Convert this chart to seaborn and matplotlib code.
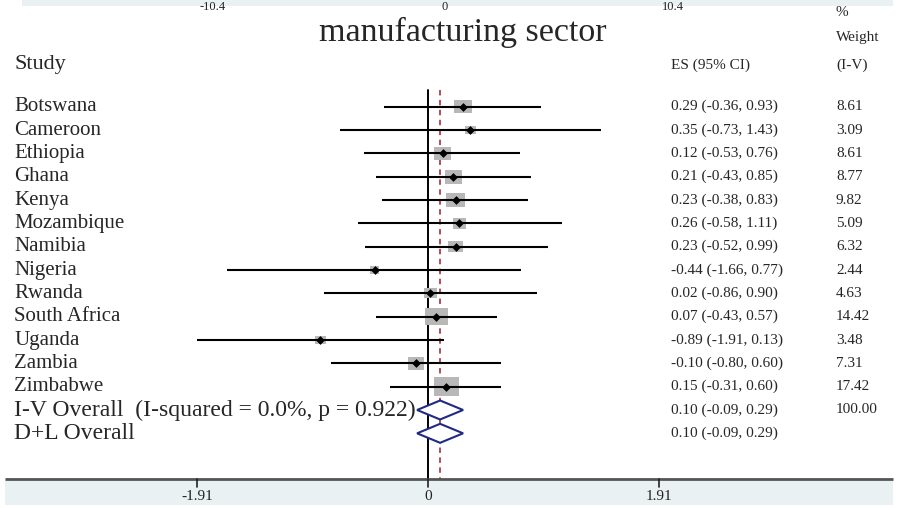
import numpy as np
import pandas as pd
import matplotlib
matplotlib.use("Agg")
import matplotlib.pyplot as plt
from matplotlib.patches import Rectangle, Polygon
import seaborn as sns

# ---- data -------------------------------------------------------------
studies = ["Botswana", "Cameroon", "Ethiopia", "Ghana", "Kenya", "Mozambique",
           "Namibia", "Nigeria", "Rwanda", "South Africa", "Uganda", "Zambia",
           "Zimbabwe"]
es = [0.29, 0.35, 0.12, 0.21, 0.23, 0.26, 0.23, -0.44, 0.02, 0.07, -0.89, -0.10, 0.15]
ci_low = [-0.36, -0.73, -0.53, -0.43, -0.38, -0.58, -0.52, -1.66, -0.86, -0.43,
          -1.91, -0.80, -0.31]
ci_high = [0.93, 1.43, 0.76, 0.85, 0.83, 1.11, 0.99, 0.77, 0.90, 0.57, 0.13, 0.60, 0.60]
weights = [8.61, 3.09, 8.61, 8.77, 9.82, 5.09, 6.32, 2.44, 4.63, 14.42, 3.48, 7.31, 17.42]

pooled_labels = ["I-V Overall  (I-squared = 0.0%, p = 0.922)", "D+L Overall"]
pooled_es = [0.10, 0.10]
pooled_low = [-0.09, -0.09]
pooled_high = [0.29, 0.29]
pooled_weight = ["100.00", ""]

x_ticks = [-1.91, 0, 1.91]
x_tick_labels = ["-1.91", "0", "1.91"]
top_tick_labels = ["-10.4", "0", "10.4"]

title = "manufacturing sector"

df = pd.DataFrame({"study": studies, "es": es, "lo": ci_low, "hi": ci_high,
                   "w": weights})
df["row"] = np.arange(len(df))

# ---- figure / coordinate frame ---------------------------------------
sns.set_theme(style="white")
plt.rcParams["font.family"] = ["Liberation Serif", "DejaVu Serif"]

W, H = 903, 508
fig = plt.figure(figsize=(W / 100, H / 100), dpi=100)
ax = fig.add_axes([0, 0, 1, 1])
ax.set_axis_off()

PX_PER_UNIT = 121.0      # horizontal pixels per effect-size unit
ZERO_PX = 428.0          # pixel column of the null line
ROW_PX = 23.33           # pixel height of one row
ROW0_PX = 106.7          # pixel row of the first study

ax.set_xlim(-ZERO_PX / PX_PER_UNIT, (W - ZERO_PX) / PX_PER_UNIT)
ax.set_ylim((H - ROW0_PX) / ROW_PX, -ROW0_PX / ROW_PX)


def px2x(px):
    return (px - ZERO_PX) / PX_PER_UNIT


def px2y(py):
    return (py - ROW0_PX) / ROW_PX


n = len(df)
pool_rows = [n, n + 1]
axis_y = px2y(479)
top_y = px2y(90)

# background strips for the axis areas
ax.add_patch(Rectangle((5 / W, 1 - 505 / H), 888 / W, 26 / H, transform=ax.transAxes,
                       facecolor="#e9f1f3", edgecolor="none", zorder=0))
ax.add_patch(Rectangle((22 / W, 1 - 6 / H), 871 / W, 6 / H, transform=ax.transAxes,
                       facecolor="#e9f1f3", edgecolor="none", zorder=0))
for lab, xp in zip(top_tick_labels, [213, 445, 673]):
    ax.text(xp / W, 1 - 0.5 / H, lab, transform=ax.transAxes, ha="center", va="top",
            fontsize=9, color="#222222", zorder=1)

# null line and pooled-estimate line
ax.plot([0, 0], [top_y, axis_y], color="black", lw=1.4, zorder=2)
ax.plot([pooled_es[0]] * 2, [top_y, axis_y], color="#a8404f", lw=1.3,
        ls=(0, (3, 2.5)), zorder=2)

# weight boxes (side proportional to sqrt of weight)
for _, r in df.iterrows():
    side = 6.0 * np.sqrt(r["w"])
    bw = side / PX_PER_UNIT
    bh = side / 1.3 / ROW_PX
    ax.add_patch(Rectangle((r["es"] - bw / 2, r["row"] - bh / 2), bw, bh,
                           facecolor="#b8b8b8", edgecolor="none", zorder=3))

# confidence intervals
ax.hlines(df["row"], df["lo"], df["hi"], color="black", lw=1.5, zorder=4)
sns.scatterplot(data=df, x="es", y="row", marker="D", s=20, color="black",
                edgecolor="black", linewidth=0, ax=ax, zorder=5, legend=False)
ax.set_axis_off()

# pooled diamonds
half_h = 9.5 / ROW_PX
for row, e, lo, hi in zip(pool_rows, pooled_es, pooled_low, pooled_high):
    ax.add_patch(Polygon([(lo, row), (e, row - half_h), (hi, row), (e, row + half_h)],
                         closed=True, facecolor="white", edgecolor="#1f2a80",
                         lw=1.5, zorder=6))

# bottom axis
ax.plot([px2x(5), px2x(893)], [axis_y, axis_y], color="#555555", lw=2, zorder=7,
        solid_capstyle="butt")
for t, lab in zip(x_ticks, x_tick_labels):
    ax.plot([t, t], [axis_y, px2y(487)], color="#222222", lw=1.2, zorder=7)
    ax.text(t, px2y(497), lab, ha="center", va="center", fontsize=11, color="#222222")

# left column: study names
label_x = px2x(14)
for _, r in df.iterrows():
    ax.text(label_x, r["row"], r["study"], ha="left", va="center", fontsize=15)
for row, lab in zip(pool_rows, pooled_labels):
    ax.text(label_x, row, lab, ha="left", va="center", fontsize=17)

# right columns: estimates and weights
es_x = px2x(671)
wt_x = px2x(836)
for _, r in df.iterrows():
    ax.text(es_x, r["row"], f"{r['es']:.2f} ({r['lo']:.2f}, {r['hi']:.2f})",
            ha="left", va="center", fontsize=11)
    ax.text(wt_x, r["row"], f"{r['w']:.2f}", ha="left", va="center", fontsize=11)
for row, e, lo, hi, wt in zip(pool_rows, pooled_es, pooled_low, pooled_high, pooled_weight):
    ax.text(es_x, row, f"{e:.2f} ({lo:.2f}, {hi:.2f})", ha="left", va="center", fontsize=11)
    if wt:
        ax.text(wt_x, row, wt, ha="left", va="center", fontsize=11)

# headers and title
ax.text(label_x, px2y(65), "Study", ha="left", va="center", fontsize=16)
ax.text(es_x, px2y(65), "ES (95% CI)", ha="left", va="center", fontsize=11)
ax.text(wt_x, px2y(65), "(I-V)", ha="left", va="center", fontsize=11)
ax.text(wt_x, px2y(37), "Weight", ha="left", va="center", fontsize=11)
ax.text(wt_x, px2y(12), "%", ha="left", va="center", fontsize=11)
ax.text(px2x(463), px2y(32), title, ha="center", va="center", fontsize=24.5)

fig.savefig("out.png", dpi=100, facecolor="white")
